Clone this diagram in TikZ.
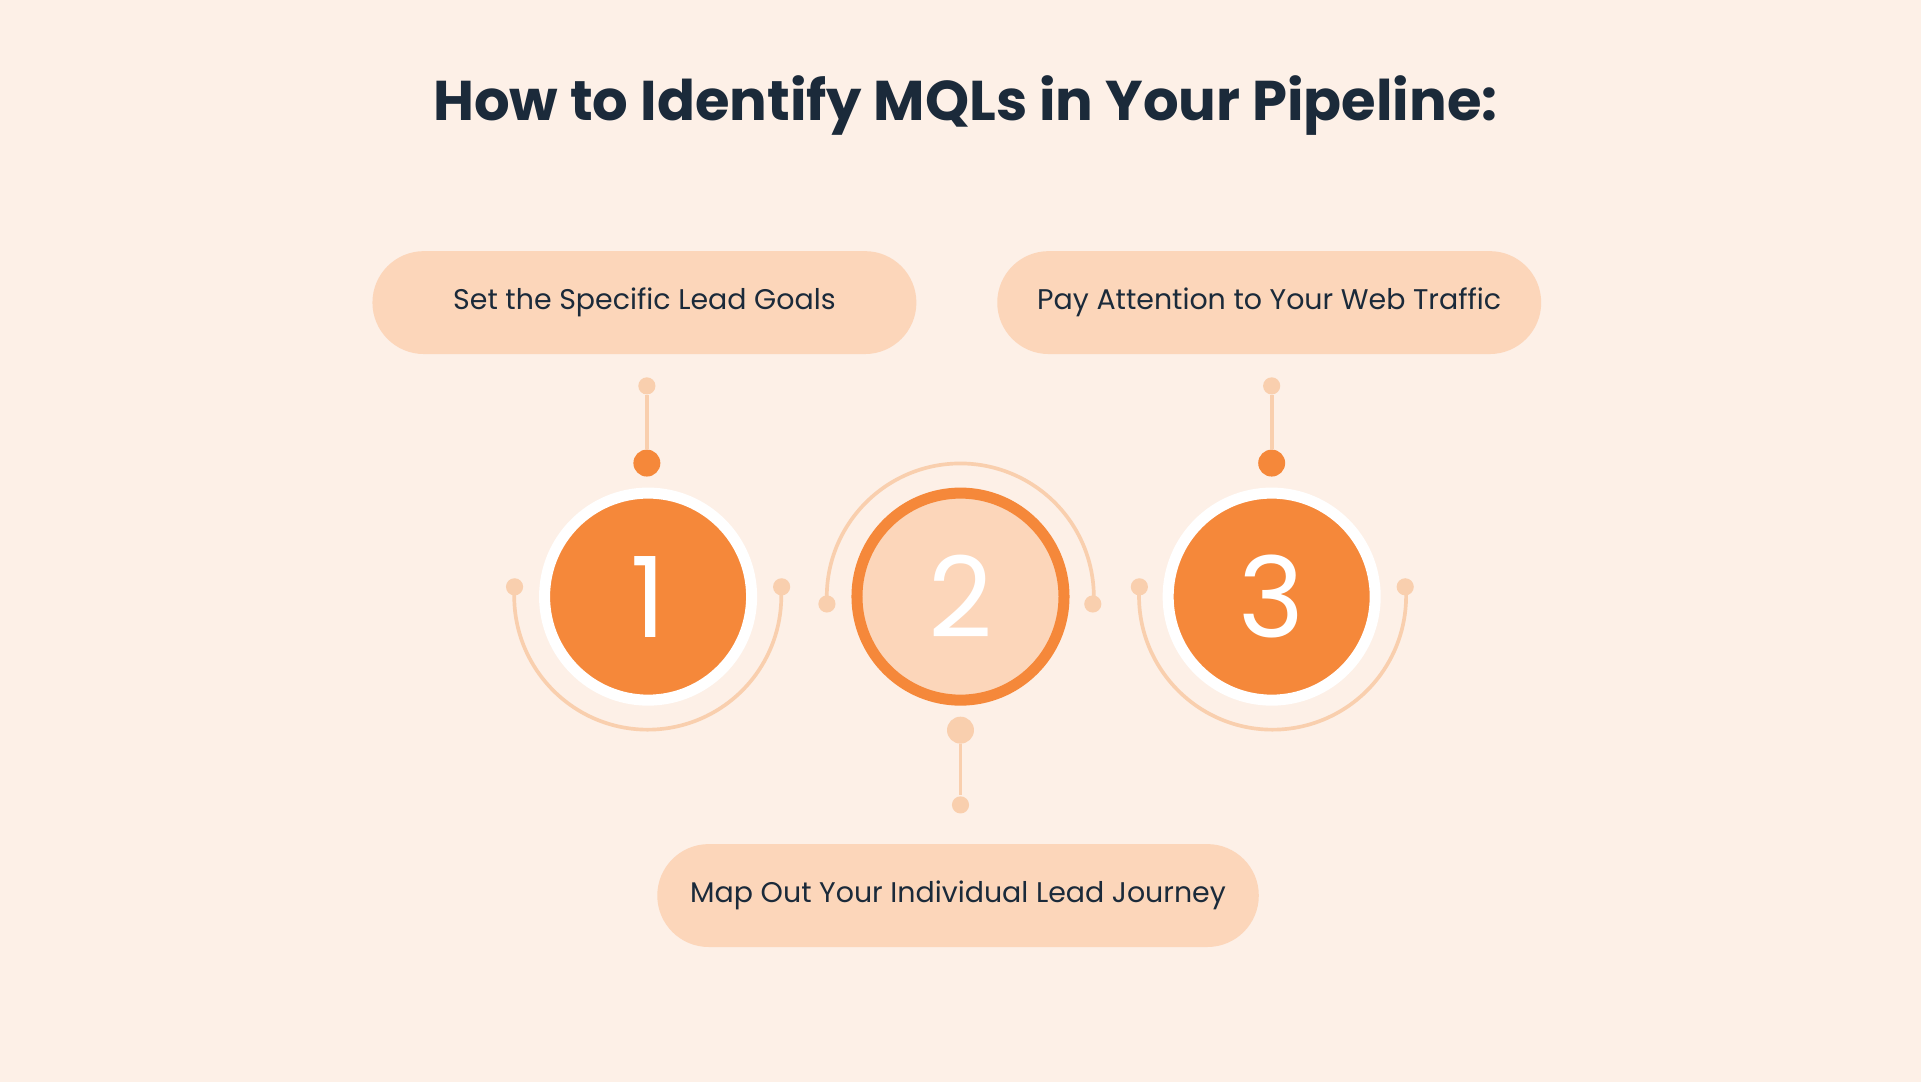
\documentclass[tikz,border=0pt]{standalone}
\usepackage{fontspec}
\setmainfont{Poppins}
\definecolor{cream}{HTML}{FDF0E7}
\definecolor{peach}{HTML}{FCD6BA}
\definecolor{peachline}{HTML}{F9CFAE}
\definecolor{orangeA}{HTML}{F5883A}
\definecolor{navy}{HTML}{1B2A3A}
\tikzset{
  pill/.style={rounded corners=42\pxu, fill=peach, minimum width=#1, minimum height=84\pxu,
    text=navy, font=\fontsize{6.6}{8}\selectfont},
  arcline/.style={peachline, line width=3\pxu},
  enddot/.style={circle, fill=peachline, minimum size=14\pxu, inner sep=0pt},
  hubdot/.style={circle, fill=#1, minimum size=22\pxu, inner sep=0pt},
  numfull/.style={circle, fill=orangeA, draw=white, line width=9\pxu, minimum size=169\pxu,
    text=white, font=\fontsize{26}{30}\selectfont},
  numring/.style={circle, fill=peach, draw=orangeA, line width=9\pxu, minimum size=169\pxu,
    text=white, font=\fontsize{26}{30}\selectfont}
}
\newlength{\pxu}
\setlength{\pxu}{0.01cm}
\begin{document}
\begin{tikzpicture}[x=0.01cm, y=-0.01cm]
  \fill[cream] (0,0) rectangle (1568,883);
  \useasboundingbox (0,0) rectangle (1568,883);

  % title
  \node[text=navy, font=\bfseries\fontsize{13}{15}\selectfont] (title) at (788,86)
    {How to Identify MQLs in Your Pipeline:};

  % pills
  \node[pill=444\pxu] (goals) at (526,247) {Set the Specific Lead Goals};
  \node[pill=444\pxu] (traffic) at (1036,247) {Pay Attention to Your Web Traffic};
  \node[pill=491\pxu] (journey) at (782,731) {Map Out Your Individual Lead Journey};

  % arcs
  \draw[arcline] (420,479) arc[start angle=184, end angle=-4, radius=109];
  \draw[arcline] (930,479) arc[start angle=184, end angle=-4, radius=109];
  \draw[arcline] (675,493) arc[start angle=177, end angle=363, radius=109];

  % hubs and stems
  \node[hubdot=orangeA] (hubA) at (528,378) {};
  \node[enddot] (tipA) at (528,315) {};
  \draw[arcline] (hubA) -- (tipA);
  \node[hubdot=orangeA] (hubC) at (1038,378) {};
  \node[enddot] (tipC) at (1038,315) {};
  \draw[arcline] (hubC) -- (tipC);
  \node[hubdot=peachline] (hubB) at (784,596) {};
  \node[enddot] (tipB) at (784,657) {};
  \draw[arcline] (hubB) -- (tipB);

  % arc end dots
  \foreach \px/\py [count=\i] in {420/479, 638/479, 930/479, 1147/479, 675/493, 892/493}
    \node[enddot] (end\i) at (\px,\py) {};

  % numbers
  \node[numfull] (one) at (529,487) {1};
  \node[numring] (two) at (784,487) {2};
  \node[numfull] (three) at (1038,487) {3};
\end{tikzpicture}
\end{document}
